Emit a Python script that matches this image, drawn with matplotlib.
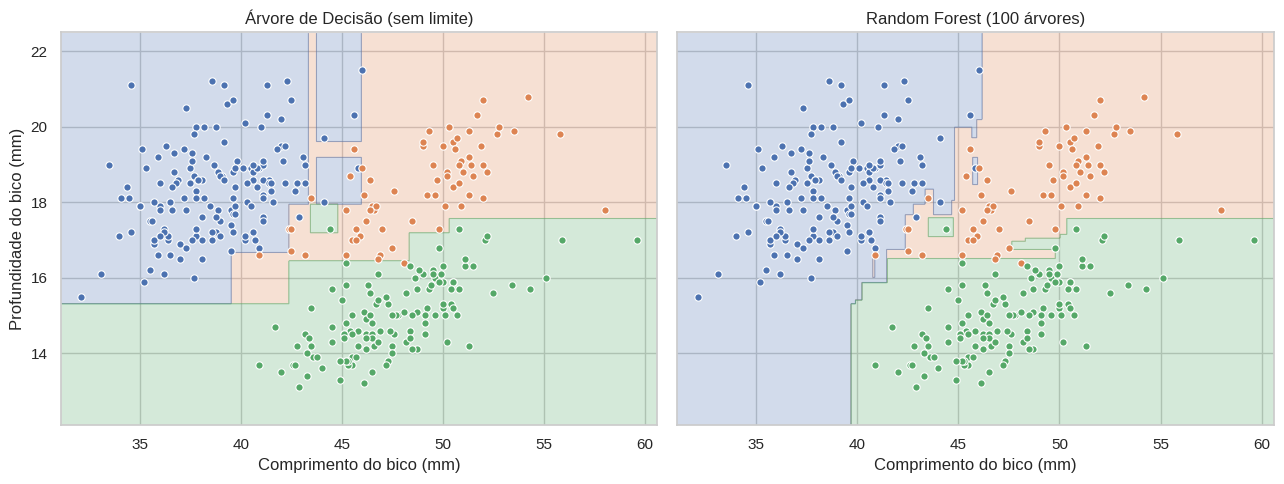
import numpy as np
import matplotlib.pyplot as plt
import seaborn as sns

sns.set_theme(style="whitegrid")
plt.rcParams['font.family'] = ['Liberation Sans', 'DejaVu Sans']

# Pontos: (comprimento do bico, profundidade do bico) por especie
adelie = [(39.1,18.7),(39.5,17.4),(40.3,18.0),(36.7,19.3),(39.3,20.6),(38.9,17.8),(39.2,19.6),(34.1,18.1),
          (42.0,20.2),(37.8,17.1),(37.8,17.3),(41.1,17.6),(38.6,21.2),(34.6,21.1),(36.6,17.8),(38.7,19.0),
          (42.5,20.7),(34.4,18.4),(46.0,21.5),(37.8,18.3),(37.7,18.7),(35.9,19.2),(38.2,18.1),(38.8,17.2),
          (35.3,18.9),(40.6,18.6),(40.5,17.9),(37.9,18.6),(40.5,18.9),(39.5,16.7),(37.2,18.1),(39.5,17.8),
          (40.9,18.9),(36.4,17.0),(39.2,21.1),(38.8,20.0),(42.2,18.5),(37.6,19.3),(39.8,19.1),(36.5,18.0),
          (40.8,18.4),(36.0,18.5),(44.1,19.7),(37.0,16.9),(39.6,18.8),(41.1,19.0),(37.5,18.9),(36.0,17.9),
          (42.3,21.2),(39.6,17.7),(40.1,18.9),(35.0,17.9),(42.0,19.5),(34.5,18.1),(41.4,18.6),(39.0,17.5),
          (40.6,18.8),(36.5,16.6),(37.6,19.1),(35.7,16.9),(41.3,21.1),(37.6,17.0),(41.1,18.2),(36.4,17.1),
          (41.6,18.0),(35.5,16.2),(41.1,19.1),(35.9,16.6),(41.8,19.4),(33.5,19.0),(39.7,18.4),(39.6,17.2),
          (45.8,18.9),(35.5,17.5),(42.8,18.5),(40.9,16.8),(37.2,19.4),(36.2,16.1),(42.1,19.1),(34.6,17.2),
          (42.9,17.6),(36.7,18.8),(35.1,19.4),(37.3,17.8),(41.3,20.3),(36.3,19.5),(36.9,18.6),(38.3,19.2),
          (38.9,18.8),(35.7,18.0),(41.1,18.1),(34.0,17.1),(39.6,18.1),(36.2,17.3),(40.8,18.9),(38.1,18.6),
          (40.3,18.5),(33.1,16.1),(43.2,18.5),(35.0,17.9),(41.0,20.0),(37.7,16.0),(37.8,20.0),(37.9,18.6),
          (39.7,18.9),(38.6,17.2),(38.2,20.0),(38.1,17.0),(43.2,19.0),(38.1,16.5),(45.6,20.3),(39.7,17.7),
          (42.2,19.5),(39.6,20.7),(42.7,18.3),(38.6,17.0),(37.3,20.5),(35.7,17.0),(41.1,18.6),(36.2,17.2),
          (37.7,19.8),(40.2,17.0),(41.4,18.5),(35.2,15.9),(40.6,19.0),(38.8,17.6),(41.5,18.3),(39.0,17.1),
          (44.1,18.0),(38.5,17.9),(43.1,19.2),(36.8,18.5),(37.5,18.5),(38.1,17.6),(41.1,17.5),(35.6,17.5),
          (40.2,20.1),(37.0,16.5),(39.7,17.9),(40.2,17.1),(40.6,17.2),(32.1,15.5),(40.7,17.0),(37.3,16.8),
          (39.0,18.7),(39.2,18.6),(36.6,18.4),(36.0,17.8),(37.8,18.1),(36.0,17.1),(41.5,18.5)]
chinstrap = [(46.5,17.9),(50.0,19.5),(51.3,19.2),(45.4,18.7),(52.7,19.8),(45.2,17.8),(46.1,18.2),(51.3,18.2),
             (46.0,18.9),(51.3,19.9),(46.6,17.8),(51.7,20.3),(47.0,17.3),(52.0,18.1),(45.9,17.1),(50.5,19.6),
             (50.3,20.0),(58.0,17.8),(46.4,18.6),(49.2,18.2),(42.4,17.3),(48.5,17.5),(43.2,16.6),(50.6,19.4),
             (46.7,17.9),(52.0,19.0),(50.5,18.4),(49.5,19.0),(46.4,17.8),(52.8,20.0),(40.9,16.6),(54.2,20.8),
             (42.5,16.7),(51.0,18.8),(49.7,18.6),(47.5,16.8),(47.6,18.3),(52.0,20.7),(46.9,16.6),(53.5,19.9),
             (49.0,19.5),(46.2,17.5),(50.9,19.1),(45.5,17.0),(50.9,17.9),(50.8,18.5),(50.1,17.9),(49.0,19.6),
             (51.5,18.7),(49.8,17.3),(48.1,16.4),(51.4,19.0),(45.7,17.3),(50.7,19.7),(42.5,17.3),(52.2,18.8),
             (45.2,16.6),(49.3,19.9),(50.2,18.8),(45.6,19.4),(51.9,19.5),(46.8,16.5),(45.7,17.0),(55.8,19.8),
             (43.5,18.1),(49.6,18.2),(50.8,19.0),(50.2,18.7)]
gentoo = [(46.1,13.2),(50.0,16.3),(48.7,14.1),(50.0,15.2),(47.6,14.5),(46.5,13.5),(45.4,14.6),(46.7,15.3),
          (43.3,13.4),(46.8,15.4),(40.9,13.7),(49.0,16.1),(45.5,13.7),(48.4,14.6),(45.8,14.6),(49.3,15.7),
          (42.0,13.5),(49.2,15.2),(46.2,14.5),(48.7,15.1),(50.2,14.3),(45.1,14.5),(46.5,14.5),(46.3,15.8),
          (42.9,13.1),(46.1,15.1),(44.5,14.3),(47.8,15.0),(48.2,14.3),(50.0,15.3),(47.3,15.3),(42.8,14.2),
          (45.1,14.5),(59.6,17.0),(49.1,14.8),(48.4,16.3),(42.6,13.7),(44.4,17.3),(44.0,13.6),(48.7,15.7),
          (42.7,13.7),(49.6,16.0),(45.3,13.7),(49.6,15.0),(50.5,15.9),(43.6,13.9),(45.5,13.9),(50.5,15.9),
          (44.9,13.3),(45.2,15.8),(46.6,14.2),(48.5,14.1),(45.1,14.4),(50.1,15.0),(46.5,14.4),(45.0,15.4),
          (43.8,13.9),(45.5,15.0),(43.2,14.5),(50.4,15.3),(45.3,13.8),(46.2,14.9),(45.7,13.9),(54.3,15.7),
          (45.8,14.2),(49.8,16.8),(46.2,14.4),(49.5,16.2),(43.5,14.2),(50.7,15.0),(47.7,15.0),(46.4,15.6),
          (48.2,15.6),(46.5,14.8),(46.4,15.0),(48.6,16.0),(47.5,14.2),(51.1,16.3),(45.2,13.8),(45.2,16.4),
          (49.1,14.5),(52.5,15.6),(47.4,14.6),(50.0,15.9),(44.9,13.8),(50.8,17.3),(43.4,14.4),(51.3,14.2),
          (47.5,14.0),(52.1,17.0),(47.5,15.0),(52.2,17.1),(45.5,14.5),(49.5,16.1),(44.5,14.7),(50.8,15.7),
          (49.4,15.8),(46.9,14.6),(48.4,14.4),(51.1,16.5),(48.5,15.0),(55.9,17.0),(47.2,15.5),(49.1,15.0),
          (47.3,13.8),(46.8,16.1),(41.7,14.7),(53.4,15.8),(43.3,14.0),(48.1,15.1),(50.5,15.2),(49.8,15.9),
          (43.5,15.2),(51.5,16.3),(46.2,14.1),(55.1,16.0),(44.5,15.7),(48.8,16.2),(47.2,13.7),(46.8,14.3),
          (50.4,15.7),(45.2,14.8),(49.9,16.1)]

# Regioes de decisao: (x0, x1, y0, y1, classe) pintadas em ordem
# classe 0 = Adelie, 1 = Chinstrap, 2 = Gentoo ; fundo = Chinstrap
tree_regions = [
    (31.1, 43.35, 17.94, 22.5, 0),
    (31.1, 42.38, 16.67, 17.94, 0),
    (31.1, 39.53, 15.30, 16.67, 0),
    (43.75, 45.96, 19.61, 22.5, 0),
    (43.75, 45.96, 17.94, 19.18, 0),
    (31.1, 42.38, 12.1, 15.30, 2),
    (42.38, 48.33, 12.1, 16.45, 2),
    (48.33, 50.30, 12.1, 17.18, 2),
    (50.30, 60.6, 12.1, 17.56, 2),
    (43.45, 44.80, 17.18, 17.94, 2),
]
forest_regions = [
    (31.1, 46.16, 20.18, 22.5, 0),
    (31.1, 45.91, 19.98, 20.18, 0),
    (45.66, 45.91, 19.71, 19.98, 0),
    (31.1, 44.80, 18.05, 19.98, 0),
    (45.70, 45.94, 18.47, 19.18, 0),
    (31.1, 44.67, 17.67, 18.05, 0),
    (31.1, 42.36, 16.74, 17.67, 0),
    (31.1, 41.45, 12.1, 16.74, 0),
    (43.34, 43.76, 17.67, 18.34, 1),
    (42.77, 43.34, 17.67, 17.94, 1),
    (40.76, 40.86, 16.00, 16.55, 1),
    (39.69, 60.6, 12.1, 15.30, 2),
    (39.90, 60.6, 12.1, 15.40, 2),
    (40.22, 60.6, 12.1, 15.87, 2),
    (41.49, 60.6, 12.1, 16.50, 2),
    (47.64, 50.03, 16.74, 16.96, 2),
    (48.30, 50.03, 16.96, 17.05, 2),
    (49.78, 50.03, 16.50, 16.74, 2),
    (50.03, 50.37, 12.1, 17.14, 2),
    (50.37, 60.6, 12.1, 17.56, 2),
    (43.51, 44.75, 17.09, 17.58, 2),
]

titles = ["Árvore de Decisão (sem limite)", "Random Forest (100 árvores)"]
cores = ["#4C72B0", "#DD8452", "#55A868"]
x_min, x_max = 31.1, 60.6
y_min, y_max = 12.1, 22.5


def region_grid(regions, xx, yy):
    z = np.ones_like(xx)
    for x0, x1, y0, y1, c in regions:
        z[(xx >= x0) & (xx < x1) & (yy >= y0) & (yy < y1)] = c
    return z


xx, yy = np.meshgrid(np.arange(x_min, x_max, 0.02), np.arange(y_min, y_max, 0.02))

fig, axes = plt.subplots(1, 2, figsize=(12.84, 4.84), sharey=True)
fig.subplots_adjust(left=0.0473, right=0.992, top=0.933, bottom=0.122, wspace=0.034)

for ax, regions, title in zip(axes, [tree_regions, forest_regions], titles):
    z = region_grid(regions, xx, yy)
    ax.contourf(xx, yy, z, levels=[-0.5, 0.5, 1.5, 2.5], colors=cores, alpha=0.25)
    # bordas finas entre as regioes
    ax.contour(xx, yy, z, levels=[0.5, 1.5], colors=[cores[0], cores[2]], linewidths=0.8, alpha=0.45)
    for pts, cor in zip([adelie, chinstrap, gentoo], cores):
        p = np.array(pts)
        ax.scatter(p[:, 0], p[:, 1], s=28, c=cor, edgecolor="white", linewidth=0.8, zorder=3)
    ax.set_xlim(x_min, x_max)
    ax.set_ylim(y_min, y_max)
    ax.set_title(title)
    ax.set_xlabel("Comprimento do bico (mm)")

axes[0].set_ylabel("Profundidade do bico (mm)")
axes[1].tick_params(labelleft=False)

plt.savefig("out.png", dpi=100)
